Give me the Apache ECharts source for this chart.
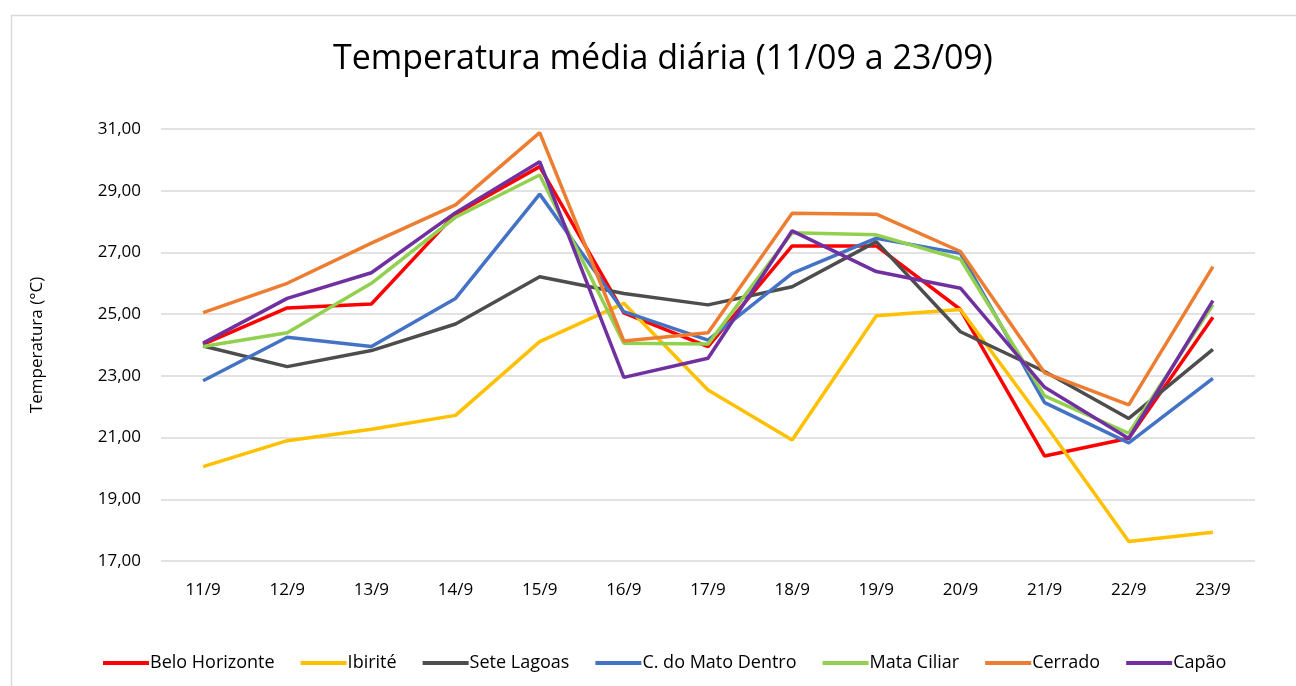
<!DOCTYPE html>
<html>
<head>
    <meta charset="utf-8">
    <title>Temperatura média diária</title>
    <script src="https://cdn.jsdelivr.net/npm/echarts@6/dist/echarts.min.js"></script>
</head>
<body style="margin:0;background:#fff;">
<div id="main" style="width:1296px;height:686px;"></div>
<script type="text/javascript">
    // dados
    var dias = ['11/9','12/9','13/9','14/9','15/9','16/9','17/9','18/9','19/9','20/9','21/9','22/9','23/9'];
    var beloHorizonte = [24.02, 25.20, 25.33, 28.25, 29.78, 25.04, 23.95, 27.21, 27.21, 25.15, 20.40, 20.98, 24.90];
    var ibirite       = [20.06, 20.90, 21.27, 21.72, 24.11, 25.35, 22.54, 20.92, 24.95, 25.15, 21.45, 17.63, 17.93];
    var seteLagoas    = [23.97, 23.30, 23.82, 24.68, 26.21, 25.67, 25.30, 25.89, 27.35, 24.43, 23.14, 21.62, 23.86];
    var matoDentro    = [22.84, 24.25, 23.95, 25.51, 28.89, 25.08, 24.16, 26.32, 27.46, 26.97, 22.13, 20.83, 22.92];
    var mataCiliar    = [23.95, 24.40, 26.00, 28.14, 29.51, 24.06, 24.03, 27.64, 27.57, 26.78, 22.35, 21.14, 25.30];
    var cerrado       = [25.05, 26.00, 27.30, 28.54, 30.88, 24.13, 24.40, 28.27, 28.24, 27.03, 23.10, 22.06, 26.54];
    var capao         = [24.06, 25.51, 26.34, 28.29, 29.94, 22.95, 23.57, 27.70, 26.38, 25.84, 22.63, 20.97, 25.44];

    var nomes = ['Belo Horizonte','Ibirité','Sete Lagoas','C. do Mato Dentro','Mata Ciliar','Cerrado','Capão'];
    var cores = ['#FF0000','#FFC000','#4D4D4D','#4472C4','#92D050','#ED7D31','#7030A0'];
    var dados = [beloHorizonte, ibirite, seteLagoas, matoDentro, mataCiliar, cerrado, capao];

    var myChart = echarts.init(document.getElementById('main'));

    var series = [];
    for (var i = 0; i < nomes.length; i++) {
        series.push({
            name: nomes[i],
            type: 'line',
            data: dados[i],
            showSymbol: false,
            symbol: 'none',
            lineStyle: { width: 3.5, color: cores[i] },
            itemStyle: { color: cores[i] },
            animation: false
        });
    }

    var option = {
        backgroundColor: '#fff',
        textStyle: { fontFamily: 'Open Sans' },
        graphic: [{
            type: 'rect',
            shape: { x: 11.5, y: 15.5, width: 1300, height: 700 },
            style: { fill: 'none', stroke: '#d9d9d9', lineWidth: 1.5 },
            silent: true
        }],
        title: {
            text: 'Temperatura média diária (11/09 a 23/09)',
            left: 328,
            top: 37,
            textStyle: { fontSize: 34, fontWeight: 'normal', color: '#000', fontFamily: 'Open Sans' }
        },
        legend: {
            data: nomes,
            bottom: 9,
            left: 98,
            itemWidth: 46,
            itemHeight: 4,
            itemGap: 26,
            icon: 'rect',
            textStyle: { fontSize: 18, color: '#000', padding: [0, 0, 0, -4] }
        },
        grid: {
            left: 161,
            right: 41,
            top: 129,
            bottom: 125
        },
        xAxis: {
            type: 'category',
            data: dias,
            boundaryGap: true,
            axisLine: { show: false },
            axisTick: { show: false },
            axisLabel: { fontSize: 17, color: '#000', margin: 21 }
        },
        yAxis: {
            type: 'value',
            min: 17,
            max: 31,
            interval: 2,
            name: 'Temperatura (°C)',
            nameLocation: 'middle',
            nameGap: 115,
            nameTextStyle: { fontSize: 17, color: '#000' },
            axisLabel: {
                fontSize: 17,
                color: '#000',
                margin: 20,
                formatter: function (v) { return v.toFixed(2).replace('.', ','); }
            },
            splitLine: { lineStyle: { color: '#d9d9d9', width: 1.5 } }
        },
        series: series
    };

    myChart.setOption(option);
</script>
</body>
</html>
